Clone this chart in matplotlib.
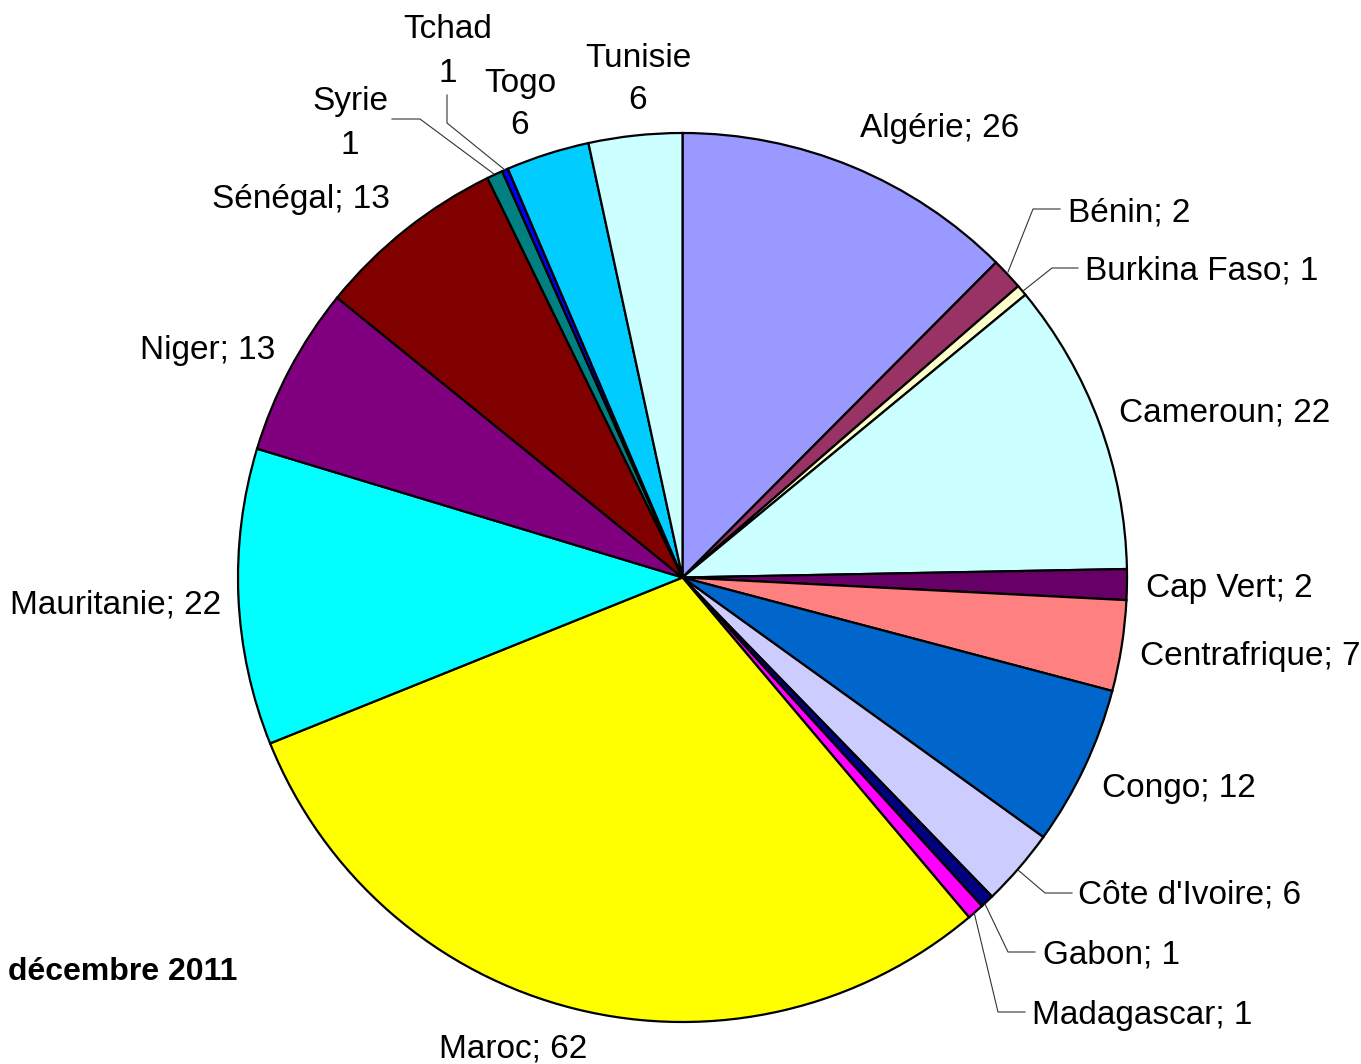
import matplotlib
matplotlib.use("Agg")
import matplotlib.pyplot as plt

countries = ["Algérie", "Bénin", "Burkina Faso", "Cameroun", "Cap Vert", "Centrafrique",
             "Congo", "Côte d'Ivoire", "Gabon", "Madagascar", "Maroc", "Mauritanie",
             "Niger", "Sénégal", "Syrie", "Tchad", "Togo", "Tunisie"]
# values printed in the labels
values = [26, 2, 1, 22, 2, 7, 12, 6, 1, 1, 62, 22, 13, 13, 1, 1, 6, 6]
# slice sizes as drawn in the picture (measured from the wedge angles)
shares = [25.7, 2.4, 0.83, 22.0, 2.3, 6.8, 12.0, 5.8, 1.03, 1.26, 62.0, 22.2,
          12.7, 14.3, 1.2, 0.46, 6.25, 7.0]
colors = ["#9999FF", "#993366", "#FFFFCC", "#CCFFFF", "#660066", "#FF8080",
          "#0066CC", "#CCCCFF", "#000080", "#FF00FF", "#FFFF00", "#00FFFF",
          "#800080", "#800000", "#008080", "#0000FF", "#00CCFF", "#CCFFFF"]
title = "décembre 2011"

W, H = 1361, 1064
plt.rcParams['font.family'] = ['Liberation Sans', 'DejaVu Sans']
fig = plt.figure(figsize=(W / 100, H / 100), dpi=100)
ax = fig.add_axes([0, 0, 1, 1])

def Y(py):
    return H - py

cx, cy, R = 682.5, Y(577.5), 444.5
ax.pie(shares, colors=colors, startangle=90, counterclock=False,
       center=(cx, cy), radius=R, frame=True,
       wedgeprops=dict(edgecolor='black', linewidth=1.6))
ax.set_xlim(0, W)
ax.set_ylim(0, H)
ax.set_aspect('equal')
ax.axis('off')

fs = 24
lab = dict(zip(countries, values))
# label placement: (x, y-center of caps, ha)
single = {
    "Algérie": (940, 125, 'center'),
    "Bénin": (1068, 210, 'left'),
    "Burkina Faso": (1085, 268, 'left'),
    "Cameroun": (1119, 410, 'left'),
    "Cap Vert": (1146, 585, 'left'),
    "Centrafrique": (1140, 653, 'left'),
    "Congo": (1102, 785, 'left'),
    "Côte d'Ivoire": (1078, 892, 'left'),
    "Gabon": (1043, 952, 'left'),
    "Madagascar": (1032, 1012, 'left'),
    "Maroc": (513, 1045, 'center'),
    "Mauritanie": (116, 602, 'center'),
    "Niger": (208, 347, 'center'),
    "Sénégal": (301, 196, 'center'),
}
double = {
    "Syrie": (350, 98, 142),
    "Tchad": (448, 26, 70),
    "Togo": (520, 80, 122),
    "Tunisie": (638, 55, 97),
}
off = 12
for c, (x, y, ha) in single.items():
    ax.text(x, Y(y + off), f"{c}; {lab[c]}", fontsize=fs, ha=ha, va='baseline')
for c, (x, y1, y2) in double.items():
    ax.text(x, Y(y1 + off), c, fontsize=fs, ha='center', va='baseline')
    ax.text(x, Y(y2 + off), str(lab[c]), fontsize=fs, ha='center', va='baseline')

leaders = [
    [(1008, 272), (1033, 209), (1060, 209)],
    [(1023, 291), (1052, 268), (1078, 268)],
    [(1018, 870), (1045, 893), (1072, 893)],
    [(985, 904), (1008, 952), (1035, 952)],
    [(974, 912), (998, 1012), (1025, 1012)],
    [(392, 119), (420, 119), (494, 174)],
    [(447, 95), (447, 123), (505, 170)],
]
for pts in leaders:
    ax.plot([p[0] for p in pts], [Y(p[1]) for p in pts], color='#333333', lw=0.8)

ax.text(8, Y(968 + 12), title, fontsize=23, fontweight='bold', ha='left', va='baseline')

fig.savefig("out.png", dpi=100)
